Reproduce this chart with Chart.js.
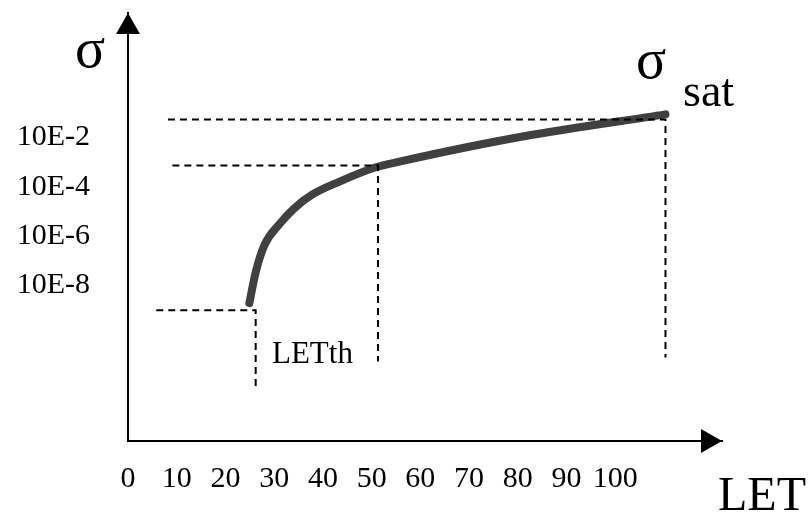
<!DOCTYPE html>
<html>
<head>
<meta charset="utf-8">
<script src="https://cdn.jsdelivr.net/npm/chart.js@4.4.1/dist/chart.umd.min.js"></script>
<style>
  html, body { margin: 0; padding: 0; background: #fff; }
  .chart-container { width: 810px; height: 514px; }
</style>
</head>
<body>
<div class="chart-container"><canvas id="myChart"></canvas></div>
<script>
// LET values along the cross-section curve, and the curve's sigma (log10 exponent)
var curveLET   = [24.9, 26.2, 28.0, 31.1, 34.2, 37.7, 43.3, 50.7, 55.7, 81.0, 110.3];
var curveSigma = [-8.73, -7.47, -6.37, -5.51, -4.86, -4.33, -3.80, -3.22, -2.98, -1.96, -1.06];

// dashed guide lines (x = LET, y = log10 sigma)
var satLineLET     = [8.2, 110.3, 110.3];
var satLineSigma   = [-1.27, -1.27, -10.94];
var kneeLineLET    = [9.1, 51.3, 51.3];
var kneeLineSigma  = [-3.14, -3.14, -11.1];
var threshLineLET  = [5.8, 26.2, 26.2];
var threshLineSigma = [-9.02, -9.02, -12.24];

// tick labels
var xTickValues = [0, 10, 20, 30, 40, 50, 60, 70, 80, 90, 100];
var xTickLabels = ['0', '10', '20', '30', '40', '50', '60', '70', '80', '90', '100'];
var yTickValues = [-2, -4, -6, -8];
var yTickLabels = ['10E-2', '10E-4', '10E-6', '10E-8'];

function toPoints(xs, ys) {
  return xs.map(function (x, i) { return { x: x, y: ys[i] }; });
}

function dashedSet(xs, ys) {
  return {
    data: toPoints(xs, ys),
    borderColor: '#000',
    borderWidth: 2,
    borderDash: [7, 5],
    pointRadius: 0,
    tension: 0,
    order: 1
  };
}

var serif = "'Liberation Serif', 'DejaVu Serif', serif";

// arrows and free labels
var decorPlugin = {
  id: 'decor',
  afterDraw: function (chart) {
    var c = chart.ctx, a = chart.chartArea;
    c.save();
    c.fillStyle = '#000';
    // y arrow
    c.beginPath();
    c.moveTo(a.left, a.top);
    c.lineTo(a.left - 12, a.top + 21);
    c.lineTo(a.left + 12, a.top + 21);
    c.closePath();
    c.fill();
    // x arrow
    c.beginPath();
    c.moveTo(a.right, a.bottom);
    c.lineTo(a.right - 21, a.bottom - 12);
    c.lineTo(a.right - 21, a.bottom + 12);
    c.closePath();
    c.fill();

    c.textBaseline = 'alphabetic';
    c.textAlign = 'left';
    c.font = '56px ' + serif;
    c.fillText('σ', 75, 67);
    c.fillText('σ', 636, 78);
    c.font = '46px ' + serif;
    c.fillText('sat', 683, 106);
    c.font = '31px ' + serif;
    c.fillText('LETth', 272, 363);
    c.font = '48px ' + serif;
    c.fillText('LET', 718, 510);
    c.restore();
  }
};

var ctx = document.getElementById('myChart').getContext('2d');
var myChart = new Chart(ctx, {
  type: 'line',
  data: {
    datasets: [
      {
        data: toPoints(curveLET, curveSigma),
        borderColor: '#404040',
        borderWidth: 8,
        borderCapStyle: 'round',
        borderJoinStyle: 'round',
        cubicInterpolationMode: 'monotone',
        pointRadius: 0,
        order: 2
      },
      dashedSet(satLineLET, satLineSigma),
      dashedSet(kneeLineLET, kneeLineSigma),
      dashedSet(threshLineLET, threshLineSigma)
    ]
  },
  options: {
    responsive: true,
    maintainAspectRatio: false,
    animation: false,
    layout: { padding: { left: 0, top: 13, right: 88, bottom: 0 } },
    plugins: { legend: { display: false }, tooltip: { enabled: false } },
    scales: {
      x: {
        type: 'linear',
        min: 0,
        max: 121.9,
        grid: { display: false, drawTicks: false },
        border: { display: true, color: '#000', width: 2 },
        afterBuildTicks: function (scale) {
          scale.ticks = xTickValues.map(function (v) { return { value: v }; });
        },
        afterFit: function (scale) {
          scale.height = 73;
          scale.paddingLeft = 0;
          scale.paddingRight = 0;
        },
        ticks: {
          color: '#000',
          padding: 20,
          maxRotation: 0,
          autoSkip: false,
          font: { family: serif, size: 30 },
          callback: function (v) {
            var i = xTickValues.indexOf(v);
            return i >= 0 ? xTickLabels[i] : '';
          }
        }
      },
      y: {
        type: 'linear',
        min: -14.33,
        max: 3.06,
        grid: { display: false, drawTicks: false },
        border: { display: true, color: '#000', width: 2 },
        afterBuildTicks: function (scale) {
          scale.ticks = yTickValues.map(function (v) { return { value: v }; });
        },
        afterFit: function (scale) {
          scale.width = 128;
          scale.paddingTop = 0;
          scale.paddingBottom = 0;
        },
        ticks: {
          color: '#000',
          padding: 38,
          autoSkip: false,
          font: { family: serif, size: 30 },
          callback: function (v) {
            var i = yTickValues.indexOf(v);
            return i >= 0 ? yTickLabels[i] : '';
          }
        }
      }
    }
  },
  plugins: [decorPlugin]
});
</script>
</body>
</html>
